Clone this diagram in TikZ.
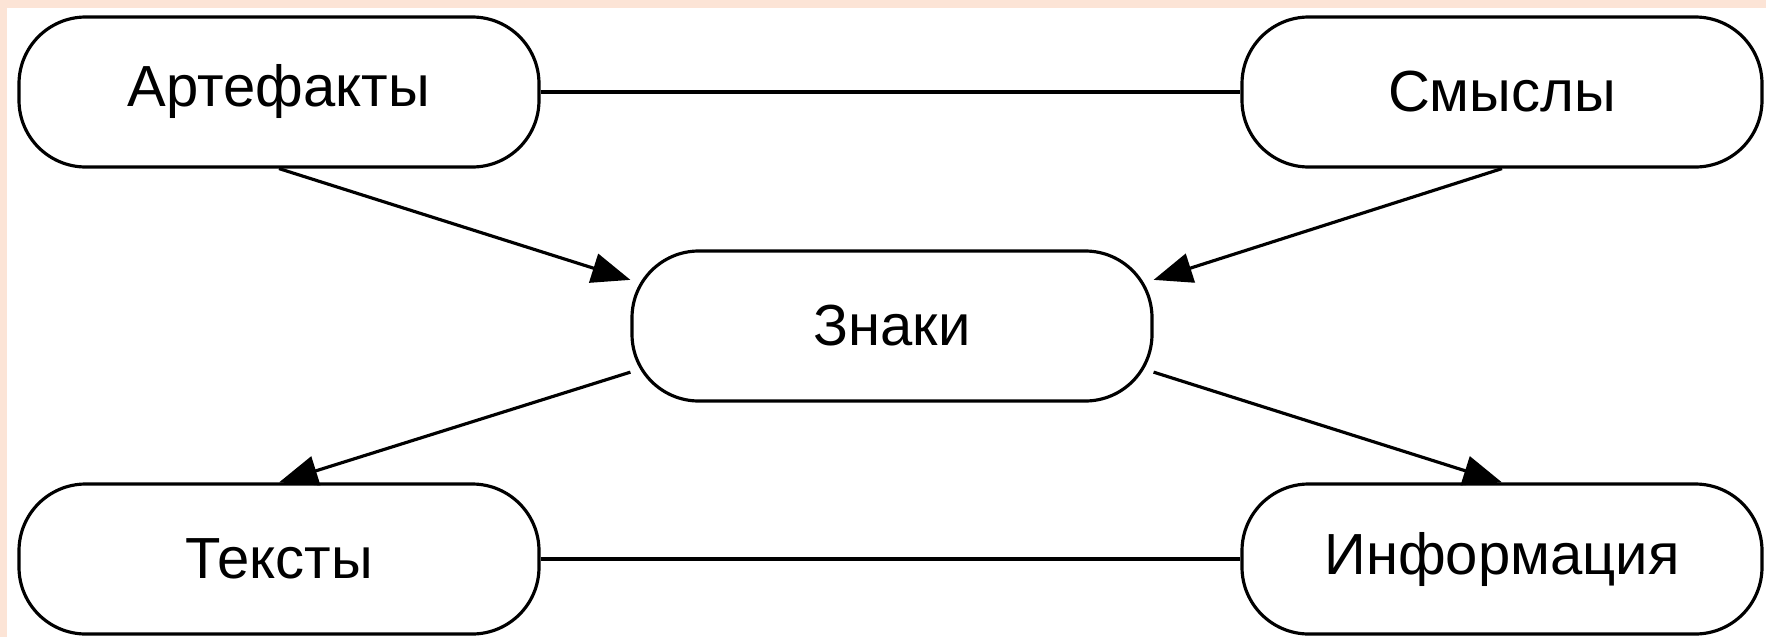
\documentclass[tikz,border=0pt]{standalone}
\usepackage{fontspec}
\setmainfont{Liberation Sans}
\usetikzlibrary{arrows.meta}
\definecolor{peach}{RGB}{252,228,214}

\begin{document}
\begin{tikzpicture}
		[box/.style={draw,rounded corners=19pt,line width=0.9pt,minimum width=5.2cm,minimum height=1.5cm,font=\fontsize{16.5}{19}\selectfont},
		link/.style={line width=0.9pt},
		flow/.style={->,line width=0.9pt,>={Triangle[length=11pt,width=8.5pt]}}]
		% page and background
		\useasboundingbox (0,0) rectangle (17.66,6.37);
		\fill[peach] (0,0) rectangle (17.66,6.37);
		\fill[white] (0.07,0) rectangle (17.66,6.29);

		% the five boxes
		\node [box] (art) at (2.79,5.45) {Артефакты};
		\node [box] (smy) at (15.02,5.45) {Смыслы};
		\node [box] (zn) at (8.92,3.11) {Знаки};
		\node [box] (tek) at (2.79,0.78) {Тексты};
		\node [box] (inf) at (15.02,0.78) {Информация};

		% plain links
		\draw [link] (art) -- (smy);
		\draw [link] (tek) -- (inf);

		% arrows through the signs
		\draw [flow] (art.south) -- (zn.170);
		\draw [flow] (smy.south) -- (zn.10);
		\draw [flow] (zn.190) -- (tek.north);
		\draw [flow] (zn.350) -- (inf.north);
	\end{tikzpicture}
\end{document}
